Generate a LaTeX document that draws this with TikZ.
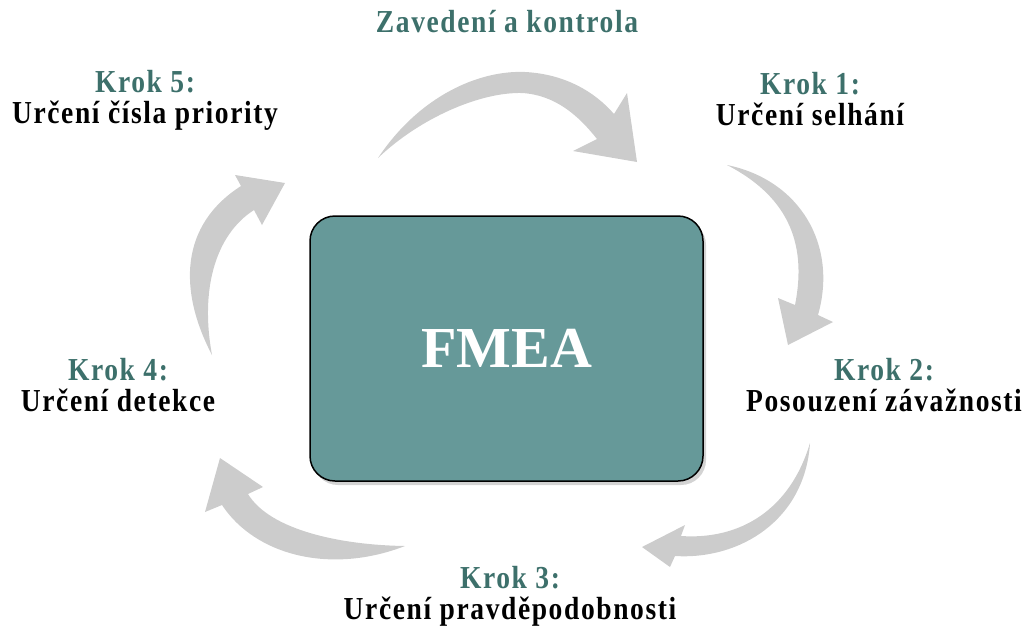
\documentclass[tikz,border=0pt]{standalone}
\usepackage{fontspec}
\setmainfont{Liberation Serif}
\newfontfamily\labfont[LetterSpace=5,FakeStretch=0.86]{Liberation Serif}
\usetikzlibrary{shadows}
\definecolor{boxteal}{RGB}{102,153,153}
\definecolor{steptext}{RGB}{61,112,107}
\definecolor{arrowgray}{RGB}{204,204,204}

\begin{document}
\begin{tikzpicture}[x=1pt,y=-1pt,
        step label/.style={align=center, font=\labfont\fontsize{32}{31}\selectfont\bfseries},
        flow arrow/.style={fill=arrowgray},
        main box/.style={draw=black, line width=1.5pt, fill=boxteal, rounded corners=25pt,
          minimum width=393pt, minimum height=265pt,
          drop shadow={opacity=0.35, shadow xshift=3pt, shadow yshift=-4pt},
          text=white, font=\fontsize{58}{60}\selectfont\bfseries}]
        \useasboundingbox (0,0) rectangle (1022,625);

        % curved arrows round the box
        \fill[flow arrow] (378,158) .. controls (420,95) and (480,70) .. (525,72)
          .. controls (565,74) and (595,92) .. (614,114) -- (627,93) -- (637,162) -- (573,151)
          -- (597,139) .. controls (578,115) and (555,95) .. (522,93)
          .. controls (480,92) and (420,118) .. (378,158) -- cycle;
        \fill[flow arrow] (727,165) .. controls (800,180) and (838,245) .. (818,315)
          -- (833,322) -- (788,345) -- (778,298) -- (795,305)
          .. controls (808,240) and (785,195) .. (727,165) -- cycle;
        \fill[flow arrow] (810,443) .. controls (805,520) and (740,560) .. (675,556)
          -- (670,567) -- (642,547) -- (685,525) -- (681,536)
          .. controls (740,540) and (790,510) .. (810,443) -- cycle;
        \fill[flow arrow] (405,546) .. controls (330,575) and (255,555) .. (222,505)
          -- (205,512) -- (220,458) -- (263,487) -- (248,494)
          .. controls (270,530) and (340,545) .. (405,546) -- cycle;
        \fill[flow arrow] (212,355) .. controls (178,290) and (180,225) .. (241,186)
          -- (235,175) -- (285,183) -- (262,225) -- (254,210)
          .. controls (215,235) and (200,290) .. (212,355) -- cycle;

        \node[main box] (fmea) at (506.5,348.5) {FMEA};

        \node[step label, text=steptext] (intro) at (507,22) {Zavedení a kontrola};
        \node[step label] (step1) at (810,99) {\textcolor{steptext}{Krok 1:}\\Určení selhání};
        \node[step label] (step2) at (884,385) {\textcolor{steptext}{Krok 2:}\\Posouzení závažnosti};
        \node[step label] (step3) at (510,596) {\textcolor{steptext}{Krok 3:}\\Určení pravděpodobnosti};
        \node[step label] (step4) at (118,385) {\textcolor{steptext}{Krok 4:}\\Určení detekce};
        \node[step label] (step5) at (145,100) {\textcolor{steptext}{Krok 5:}\\Určení čísla priority};
      \end{tikzpicture}
\end{document}
